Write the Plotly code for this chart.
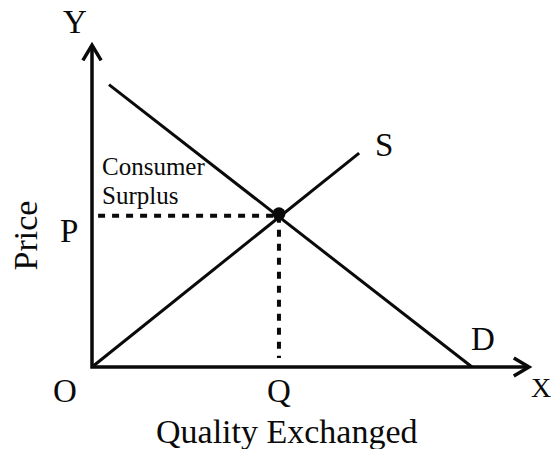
import plotly.graph_objects as go

# ---- data (diagram units) ----
demand_x = [0.447, 10.0]
demand_y = [7.43, 0.0]
supply_x = [0.0, 7.03]
supply_y = [0.0, 5.63]
eq_q = 4.92
eq_p = 3.98
x_axis_end = 11.5
y_axis_end = 8.47
dash_h_start = 0.16
dash_v_end = 0.24

BLACK = "#0a0a0a"
SERIF = "Liberation Serif, Times New Roman, serif"

fig = go.Figure()

# axes lines
fig.add_trace(go.Scatter(x=[0, 0, x_axis_end], y=[y_axis_end, 0, 0], mode="lines",
                         line=dict(color=BLACK, width=3.5), hoverinfo="skip"))
# arrowheads (chevrons)
aw, ah = 0.24, 0.40
fig.add_trace(go.Scatter(x=[-aw, 0, aw], y=[y_axis_end - ah, y_axis_end, y_axis_end - ah],
                         mode="lines", line=dict(color=BLACK, width=3.5), hoverinfo="skip"))
fig.add_trace(go.Scatter(x=[x_axis_end - ah, x_axis_end, x_axis_end - ah], y=[aw, 0, -aw],
                         mode="lines", line=dict(color=BLACK, width=3.5), hoverinfo="skip"))

# demand & supply
fig.add_trace(go.Scatter(x=demand_x, y=demand_y, mode="lines",
                         line=dict(color=BLACK, width=3), hoverinfo="skip"))
fig.add_trace(go.Scatter(x=supply_x, y=supply_y, mode="lines",
                         line=dict(color=BLACK, width=3), hoverinfo="skip"))

# dashed guides
fig.add_trace(go.Scatter(x=[dash_h_start, eq_q], y=[eq_p, eq_p], mode="lines",
                         line=dict(color=BLACK, width=4, dash="7px,7px"), hoverinfo="skip"))
fig.add_trace(go.Scatter(x=[eq_q, eq_q], y=[eq_p, dash_v_end], mode="lines",
                         line=dict(color=BLACK, width=4, dash="7px,7px"), hoverinfo="skip"))

# equilibrium point
fig.add_trace(go.Scatter(x=[eq_q], y=[eq_p + 0.05], mode="markers",
                         marker=dict(color=BLACK, size=13), hoverinfo="skip"))

def label(text, x, y, size=33, xanchor="center", angle=0):
    fig.add_annotation(x=x, y=y, text=text, showarrow=False, xanchor=xanchor,
                       yanchor="middle", textangle=angle,
                       font=dict(family=SERIF, size=size, color=BLACK))

label("Y", -0.447, 9.07)
label("O", -0.718, -0.632)
label("Q", eq_q, -0.632)
label("X", 11.82, -0.54, size=28)
label("D", 10.30, 0.737)
label("S", 7.68, 5.84)
label("P", -0.605, 3.58)
label("Price", -1.75, 3.447, size=34, angle=-90)
label("Quality Exchanged", 5.13, -1.70, size=34)
label("Consumer", 0.21, 5.276, size=25, xanchor="left")
label("Surplus", 0.21, 4.526, size=25, xanchor="left")

fig.update_layout(
    width=551, height=449,
    margin=dict(l=0, r=0, t=0, b=0),
    paper_bgcolor="white", plot_bgcolor="white",
    showlegend=False,
    xaxis=dict(range=[-92 / 38, (551 - 92) / 38], visible=False, fixedrange=True),
    yaxis=dict(range=[(367 - 449) / 38, 367 / 38], visible=False, fixedrange=True),
)

fig.write_html("out.html", config={"displayModeBar": False},
               post_script="document.body.style.margin='0';document.body.style.overflow='hidden';")
